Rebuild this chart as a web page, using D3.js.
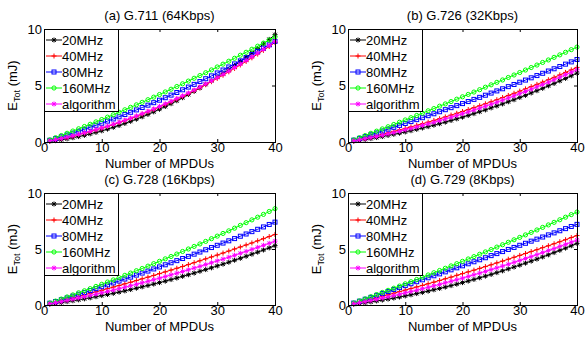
<!DOCTYPE html>
<html lang="en">
<head>
<meta charset="utf-8">
<title>E_Tot vs number of MPDUs</title>
<script src="https://d3js.org/d3.v7.min.js"></script>
<style>
body { margin: 0; background: #fff; }
svg { display: block; }
text { font-family: "Liberation Sans", Arial, Helvetica, sans-serif; fill: #000; }
.box { fill: none; stroke: #000; stroke-width: 1; }
.tick line { stroke: #000; }
.series { fill: none; stroke-width: 1; }
</style>
</head>
<body>
<div id="chart"></div>
<script>
// x values: number of MPDUs
var mpdus = [1,2,3,4,5,6,7,8,9,10,11,12,13,14,15,16,17,18,19,20,
             21,22,23,24,25,26,27,28,29,30,31,32,33,34,35,36,37,38,39,40];

var seriesNames = ["20MHz", "40MHz", "80MHz", "160MHz", "algorithm"];
var panelTitles = ["(a) G.711 (64Kbps)", "(b) G.726 (32Kbps)", "(c) G.728 (16Kbps)", "(d) G.729 (8Kbps)"];
var xTicks = [0, 10, 20, 30, 40];
var yTicks = [0, 5, 10];

// (a) G.711
var g711_20 = [0.06,0.12,0.20,0.28,0.38,0.48,0.59,0.72,0.85,0.99,1.14,1.30,1.46,1.64,1.83,2.02,2.23,2.44,2.67,2.90,
               3.14,3.39,3.65,3.92,4.20,4.49,4.79,5.10,5.41,5.74,6.07,6.42,6.77,7.13,7.50,7.88,8.27,8.67,9.08,9.50];
var g711_40 = [0.09,0.19,0.30,0.41,0.53,0.66,0.79,0.93,1.07,1.23,1.38,1.55,1.72,1.90,2.08,2.27,2.47,2.67,2.88,3.10,
               3.32,3.55,3.79,4.03,4.28,4.54,4.80,5.07,5.34,5.63,5.91,6.21,6.51,6.82,7.13,7.45,7.78,8.11,8.45,8.80];
var g711_80 = [0.15,0.30,0.46,0.62,0.78,0.95,1.12,1.30,1.48,1.66,1.85,2.04,2.23,2.43,2.63,2.84,3.05,3.26,3.48,3.70,
               3.92,4.15,4.38,4.62,4.86,5.10,5.35,5.60,5.85,6.11,6.37,6.64,6.91,7.18,7.46,7.74,8.02,8.31,8.60,8.90];
var g711_160 = [0.19,0.38,0.57,0.77,0.97,1.17,1.37,1.57,1.78,1.99,2.20,2.41,2.63,2.85,3.07,3.29,3.51,3.74,3.97,4.20,
                4.43,4.67,4.91,5.15,5.39,5.64,5.88,6.13,6.38,6.64,6.89,7.15,7.41,7.68,7.94,8.21,8.48,8.75,9.02,9.30];
var g711_alg = [0.10,0.20,0.31,0.42,0.54,0.67,0.81,0.95,1.10,1.25,1.41,1.58,1.75,1.93,2.12,2.31,2.51,2.72,2.93,3.15,
                3.38,3.61,3.85,4.09,4.34,4.60,4.87,5.14,5.42,5.70,5.99,6.29,6.59,6.90,7.22,7.54,7.87,8.21,8.55,8.90];

// (b) G.726
var g726_20 = [0.07,0.14,0.22,0.30,0.39,0.48,0.58,0.68,0.78,0.89,1.00,1.12,1.24,1.36,1.49,1.62,1.76,1.90,2.05,2.20,
               2.35,2.51,2.68,2.84,3.02,3.19,3.37,3.56,3.74,3.94,4.13,4.34,4.54,4.75,4.97,5.18,5.41,5.63,5.86,6.10];
var g726_40 = [0.11,0.22,0.33,0.44,0.56,0.68,0.81,0.94,1.07,1.20,1.34,1.48,1.62,1.76,1.91,2.06,2.22,2.38,2.54,2.70,
               2.87,3.04,3.21,3.38,3.56,3.74,3.93,4.12,4.31,4.50,4.70,4.90,5.10,5.30,5.51,5.72,5.94,6.16,6.38,6.60];
var g726_80 = [0.16,0.32,0.48,0.64,0.80,0.97,1.13,1.30,1.47,1.64,1.81,1.98,2.15,2.33,2.50,2.68,2.86,3.04,3.22,3.40,
               3.58,3.77,3.95,4.14,4.33,4.52,4.71,4.90,5.09,5.29,5.48,5.68,5.88,6.08,6.28,6.48,6.68,6.89,7.09,7.30];
var g726_160 = [0.19,0.38,0.57,0.77,0.96,1.16,1.35,1.55,1.75,1.95,2.15,2.35,2.55,2.76,2.96,3.17,3.37,3.58,3.79,4.00,
                4.21,4.42,4.63,4.85,5.06,5.28,5.49,5.71,5.93,6.15,6.37,6.59,6.81,7.04,7.26,7.49,7.71,7.94,8.17,8.40];
var g726_alg = [0.09,0.19,0.29,0.39,0.49,0.60,0.72,0.83,0.95,1.08,1.20,1.33,1.47,1.60,1.74,1.89,2.04,2.19,2.34,2.50,
                2.66,2.83,3.00,3.17,3.34,3.52,3.71,3.89,4.08,4.28,4.47,4.67,4.88,5.08,5.29,5.51,5.73,5.95,6.17,6.40];

// (c) G.728
var g728_20 = [0.07,0.14,0.22,0.30,0.38,0.46,0.55,0.64,0.74,0.84,0.94,1.04,1.15,1.26,1.38,1.50,1.62,1.74,1.87,2.00,
               2.13,2.27,2.41,2.56,2.70,2.85,3.01,3.16,3.32,3.49,3.65,3.82,4.00,4.17,4.35,4.54,4.72,4.91,5.10,5.30];
var g728_40 = [0.12,0.25,0.38,0.50,0.63,0.77,0.90,1.04,1.17,1.31,1.45,1.60,1.74,1.89,2.03,2.18,2.34,2.49,2.64,2.80,
               2.96,3.12,3.28,3.44,3.61,3.78,3.95,4.12,4.29,4.46,4.64,4.82,5.00,5.18,5.36,5.54,5.73,5.92,6.11,6.30];
var g728_80 = [0.16,0.31,0.47,0.63,0.79,0.96,1.12,1.29,1.46,1.63,1.80,1.97,2.14,2.32,2.49,2.67,2.85,3.03,3.22,3.40,
               3.59,3.77,3.96,4.15,4.34,4.54,4.73,4.93,5.13,5.33,5.53,5.73,5.93,6.14,6.34,6.55,6.76,6.97,7.19,7.40];
var g728_160 = [0.18,0.35,0.53,0.72,0.90,1.09,1.27,1.46,1.66,1.85,2.05,2.24,2.44,2.65,2.85,3.06,3.26,3.47,3.69,3.90,
                4.12,4.33,4.55,4.78,5.00,5.23,5.45,5.68,5.92,6.15,6.39,6.62,6.86,7.11,7.35,7.60,7.84,8.09,8.35,8.60];
var g728_alg = [0.10,0.20,0.30,0.41,0.52,0.63,0.74,0.85,0.97,1.09,1.21,1.33,1.46,1.59,1.72,1.85,1.98,2.12,2.26,2.40,
                2.54,2.69,2.84,2.99,3.14,3.30,3.45,3.61,3.77,3.94,4.10,4.27,4.44,4.62,4.79,4.97,5.15,5.33,5.51,5.70];

// (d) G.729
var g729_20 = [0.06,0.13,0.20,0.28,0.36,0.44,0.53,0.62,0.71,0.81,0.91,1.02,1.13,1.24,1.36,1.48,1.60,1.73,1.86,2.00,
               2.14,2.28,2.43,2.58,2.73,2.89,3.05,3.22,3.39,3.56,3.74,3.92,4.10,4.29,4.48,4.68,4.88,5.08,5.29,5.50];
var g729_40 = [0.13,0.25,0.38,0.51,0.64,0.78,0.91,1.05,1.19,1.33,1.47,1.61,1.75,1.90,2.04,2.19,2.34,2.49,2.65,2.80,
               2.96,3.11,3.27,3.43,3.59,3.76,3.92,4.09,4.26,4.43,4.60,4.77,4.94,5.12,5.29,5.47,5.65,5.83,6.02,6.20];
var g729_80 = [0.17,0.34,0.51,0.68,0.86,1.03,1.20,1.38,1.55,1.73,1.90,2.08,2.25,2.43,2.61,2.78,2.96,3.14,3.32,3.50,
               3.68,3.86,4.04,4.22,4.41,4.59,4.77,4.96,5.14,5.33,5.51,5.70,5.88,6.07,6.26,6.44,6.63,6.82,7.01,7.20];
var g729_160 = [0.18,0.37,0.55,0.74,0.93,1.12,1.31,1.50,1.69,1.89,2.08,2.28,2.48,2.68,2.88,3.08,3.28,3.49,3.69,3.90,
                4.11,4.32,4.53,4.74,4.95,5.17,5.38,5.60,5.82,6.04,6.26,6.48,6.70,6.93,7.15,7.38,7.61,7.84,8.07,8.30];
var g729_alg = [0.10,0.20,0.30,0.40,0.51,0.62,0.73,0.84,0.96,1.08,1.20,1.32,1.45,1.58,1.71,1.84,1.98,2.12,2.26,2.40,
                2.55,2.70,2.85,3.00,3.16,3.32,3.48,3.64,3.81,3.98,4.15,4.32,4.50,4.68,4.86,5.04,5.23,5.42,5.61,5.80];

var panelData = [
    [g711_20, g711_40, g711_80, g711_160, g711_alg],
    [g726_20, g726_40, g726_80, g726_160, g726_alg],
    [g728_20, g728_40, g728_80, g728_160, g728_alg],
    [g729_20, g729_40, g729_80, g729_160, g729_alg]
];

var colors = ["#000000", "#ff0000", "#0000ff", "#00ff00", "#ff00ff"];
var markers = ["star", "plus", "square", "circle", "star"];

// plot boxes (left, right, top, bottom)
var boxes = [
    {l: 44,  r: 275, t: 29,  b: 142},
    {l: 348, r: 577, t: 29,  b: 142},
    {l: 44,  r: 275, t: 193, b: 305},
    {l: 348, r: 577, t: 193, b: 305}
];

var W = 585, H = 338;
var svg = d3.select("#chart").append("svg").attr("width", W).attr("height", H);

function drawMarker(g, type, cx, cy, color){
    var s = 2.5;
    if(type == "square"){
        g.append("rect").attr("x", cx-2).attr("y", cy-2).attr("width", 4).attr("height", 4)
            .attr("fill", "none").attr("stroke", color).attr("stroke-width", 1);
    } else if(type == "circle"){
        g.append("circle").attr("cx", cx).attr("cy", cy).attr("r", 2.1)
            .attr("fill", "none").attr("stroke", color).attr("stroke-width", 1);
    } else {
        var p = "M"+(cx-s)+","+cy+"H"+(cx+s)+"M"+cx+","+(cy-s)+"V"+(cy+s);
        if(type == "star"){
            var d = s*0.75;
            p += "M"+(cx-d)+","+(cy-d)+"L"+(cx+d)+","+(cy+d)+"M"+(cx-d)+","+(cy+d)+"L"+(cx+d)+","+(cy-d);
        }
        g.append("path").attr("d", p).attr("fill", "none").attr("stroke", color).attr("stroke-width", 1);
    }
}

boxes.forEach(function(bx, pi){
    var x = d3.scaleLinear().domain([0, 40]).range([bx.l, bx.r]);
    var y = d3.scaleLinear().domain([0, 10]).range([bx.b, bx.t]);
    var g = svg.append("g");

    // series
    panelData[pi].forEach(function(vals, si){
        var pts = mpdus.map(function(n, i){ return [n, vals[i]]; });
        var line = d3.line().x(function(d){ return x(d[0]); }).y(function(d){ return y(d[1]); });
        var sg = g.append("g");
        sg.append("path").attr("class", "series").attr("d", line(pts)).attr("stroke", colors[si]);
        pts.forEach(function(d){ drawMarker(sg, markers[si], x(d[0]), y(d[1]), colors[si]); });
    });

    // axes, ticks pointing inward on all four sides
    g.append("g").attr("transform", "translate(0,"+bx.b+")")
        .call(d3.axisBottom(x).tickValues(xTicks).tickSizeInner(-3).tickSizeOuter(0).tickPadding(1))
        .call(function(a){ a.select(".domain").remove(); a.selectAll("text").style("font-size","13px"); });
    g.append("g").attr("transform", "translate(0,"+bx.t+")")
        .call(d3.axisTop(x).tickValues(xTicks).tickSizeInner(-3).tickSizeOuter(0).tickFormat(""))
        .call(function(a){ a.select(".domain").remove(); });
    g.append("g").attr("transform", "translate("+bx.l+",0)")
        .call(d3.axisLeft(y).tickValues(yTicks).tickSizeInner(-3).tickSizeOuter(0).tickPadding(2))
        .call(function(a){ a.select(".domain").remove(); a.selectAll("text").style("font-size","13px"); });
    g.append("g").attr("transform", "translate("+bx.r+",0)")
        .call(d3.axisRight(y).tickValues(yTicks).tickSizeInner(-3).tickSizeOuter(0).tickFormat(""))
        .call(function(a){ a.select(".domain").remove(); });
    g.selectAll(".tick text").attr("font-family", null);

    g.append("rect").attr("class", "box")
        .attr("x", bx.l+0.5).attr("y", bx.t+0.5)
        .attr("width", bx.r-bx.l).attr("height", bx.b-bx.t);

    // title, axis labels
    g.append("text").attr("x", (bx.l+bx.r)/2).attr("y", bx.t-9)
        .attr("text-anchor", "middle").style("font-size", "13px").text(panelTitles[pi]);
    g.append("text").attr("x", (bx.l+bx.r)/2).attr("y", bx.b+25.5)
        .attr("text-anchor", "middle").style("font-size", "13px").text("Number of MPDUs");
    var yl = g.append("text").attr("transform", "translate("+(bx.l-27)+","+((bx.t+bx.b)/2)+") rotate(-90)")
        .attr("text-anchor", "middle").style("font-size", "13px");
    yl.append("tspan").text("E");
    yl.append("tspan").attr("dy", 3).style("font-size", "9px").text("Tot");
    yl.append("tspan").attr("dy", -3).text(" (mJ)");

    // legend
    var lg = g.append("g");
    lg.append("rect").attr("x", bx.l+0.5).attr("y", bx.t+0.5).attr("width", 74).attr("height", 82)
        .attr("fill", "#fff").attr("stroke", "#000").attr("stroke-width", 1);
    seriesNames.forEach(function(name, si){
        var ly = bx.t + 11 + 16*si;
        lg.append("line").attr("x1", bx.l+2).attr("x2", bx.l+18).attr("y1", ly).attr("y2", ly)
            .attr("stroke", colors[si]).attr("stroke-width", 1);
        drawMarker(lg, markers[si], bx.l+10, ly, colors[si]);
        lg.append("text").attr("x", bx.l+18).attr("y", ly).attr("dy", "0.36em")
            .style("font-size", "13px").text(name);
    });
});
</script>
</body>
</html>
